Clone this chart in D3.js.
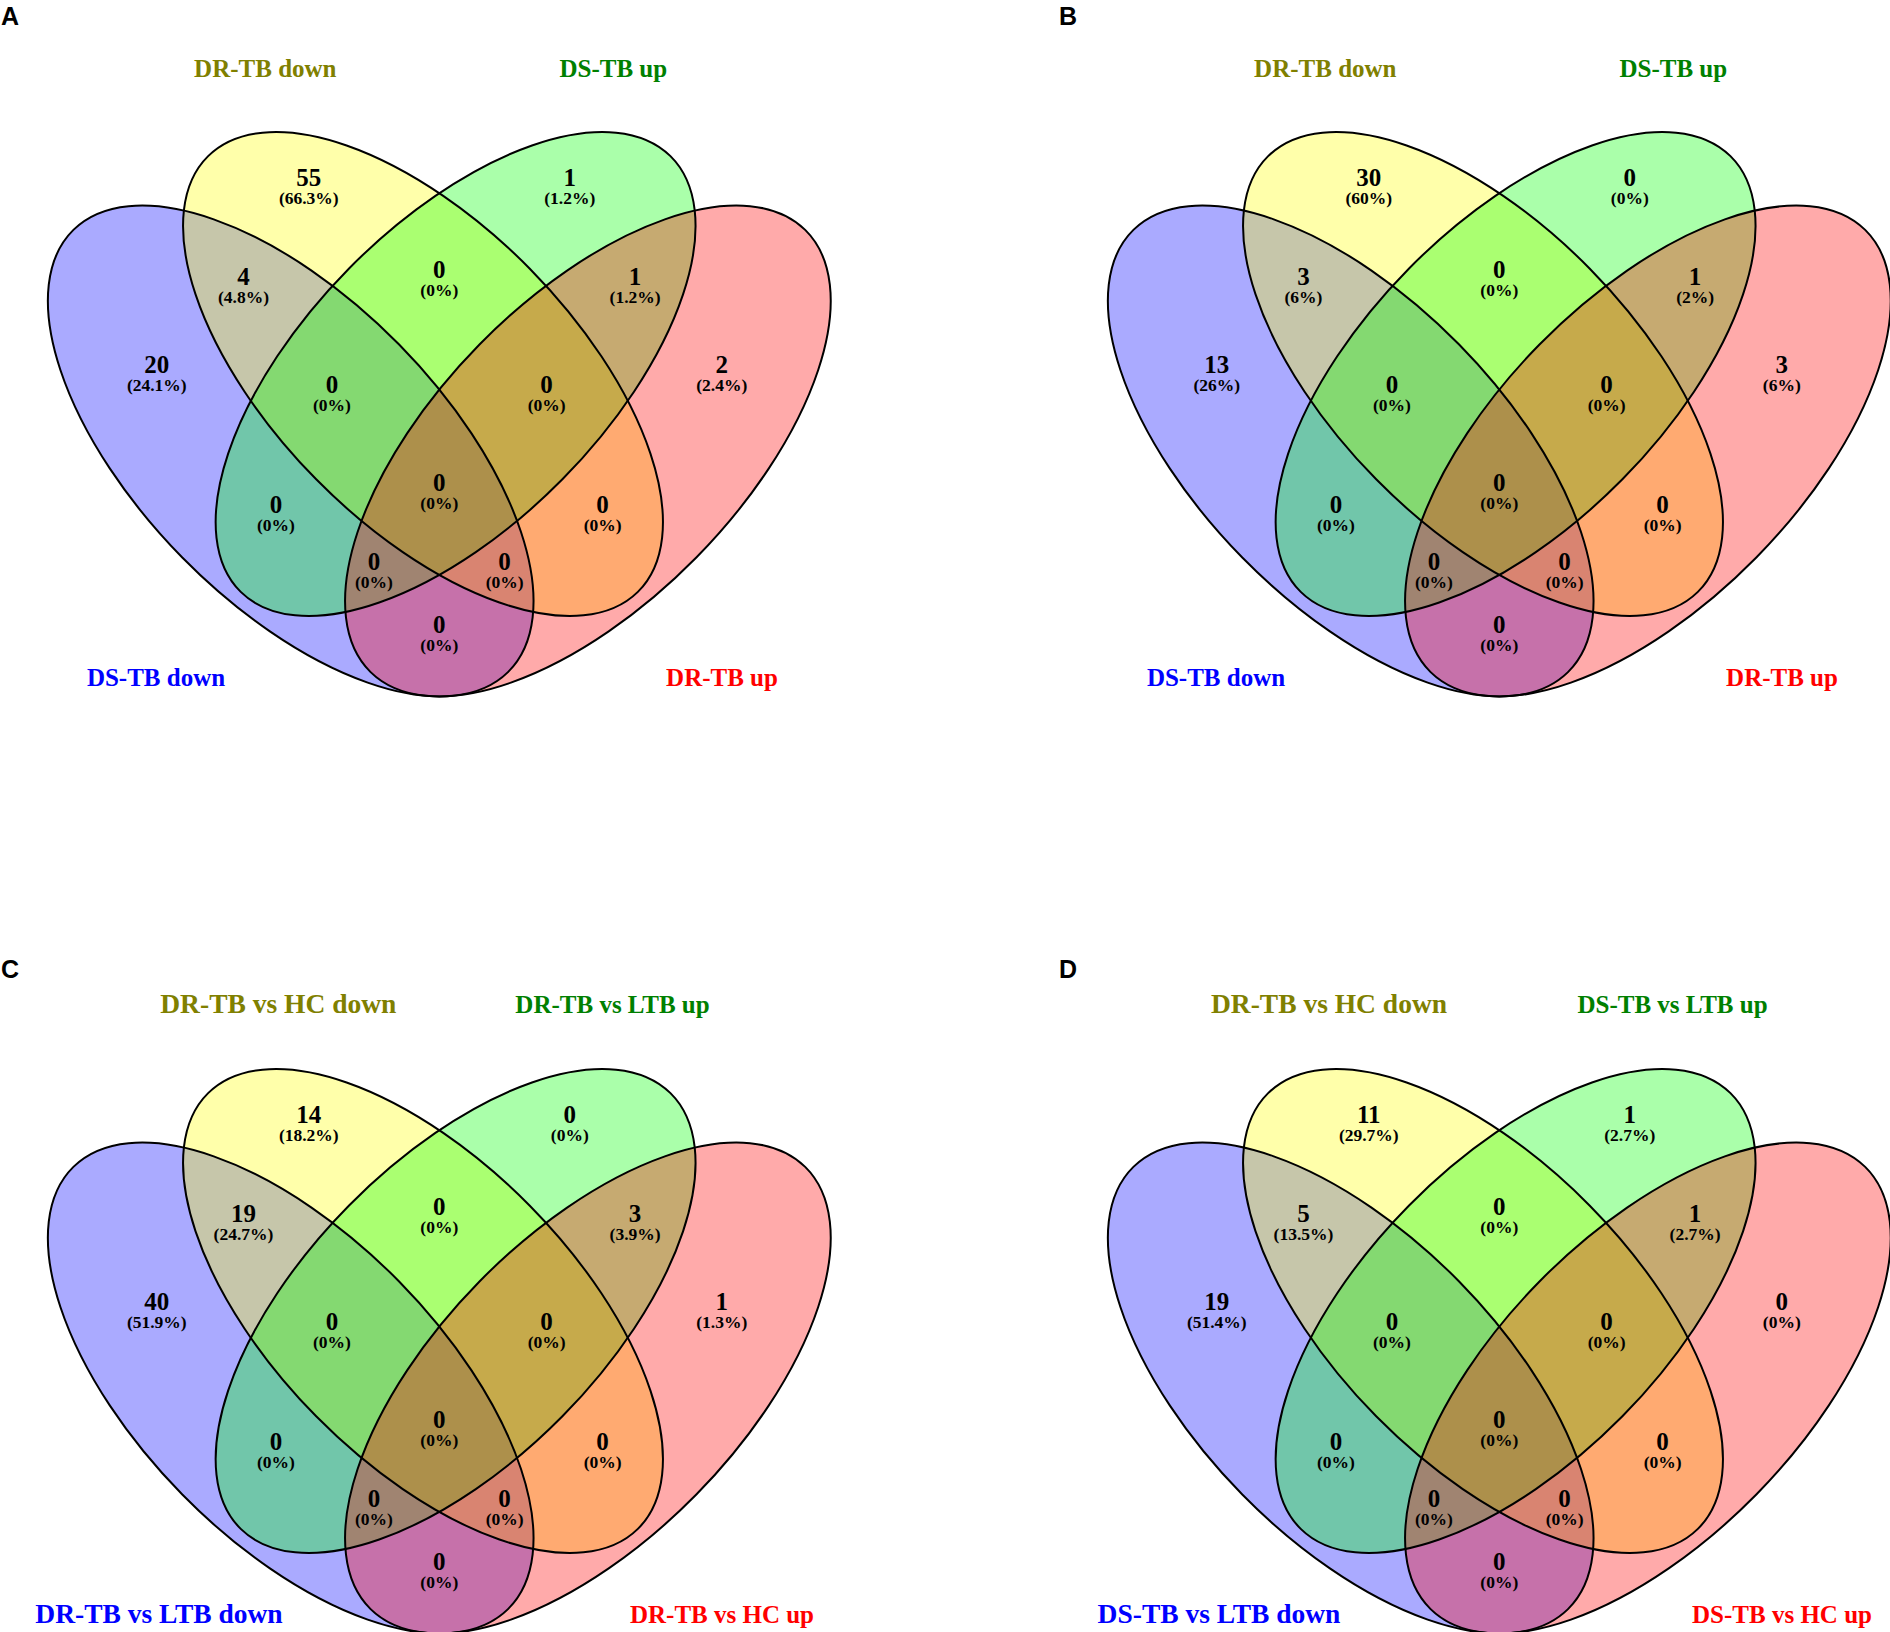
<!DOCTYPE html>
<html>
<head>
<meta charset="utf-8">
<script src="https://cdn.jsdelivr.net/npm/d3@7/dist/d3.min.js"></script>
<style>
  body { margin: 0; background: #fff; }
  text { font-family: "Liberation Serif", "Times New Roman", serif; font-weight: bold; }
</style>
</head>
<body>
<div id="chart"></div>
<script>
// set order in every panel: blue (left outer), yellow, green, red (right outer)
var panelLetters = ["A", "B", "C", "D"];
var namesA = ["DS-TB down", "DR-TB down", "DS-TB up", "DR-TB up"];
var namesB = ["DS-TB down", "DR-TB down", "DS-TB up", "DR-TB up"];
var namesC = ["DR-TB vs LTB down", "DR-TB vs HC down", "DR-TB vs LTB up", "DR-TB vs HC up"];
var namesD = ["DS-TB vs LTB down", "DR-TB vs HC down", "DS-TB vs LTB up", "DS-TB vs HC up"];

// regions: 1 = blue, 2 = yellow, 3 = green, 4 = red
var regions = ["1", "2", "3", "4", "12", "23", "34", "123", "234", "13", "24", "1234", "134", "124", "14"];
var countsA = [20, 55, 1, 2, 4, 0, 1, 0, 0, 0, 0, 0, 0, 0, 0];
var countsB = [13, 30, 0, 3, 3, 0, 1, 0, 0, 0, 0, 0, 0, 0, 0];
var countsC = [40, 14, 0, 1, 19, 0, 3, 0, 0, 0, 0, 0, 0, 0, 0];
var countsD = [19, 11, 1, 0, 5, 0, 1, 0, 0, 0, 0, 0, 0, 0, 0];

var width = 1890, height = 1632;
var panelW = 1060, panelH = 937;

var setColors = ["#0000ff", "#ffff00", "#00ff00", "#ff0000"];
var nameColors = ["#0000ff", "#808000", "#008000", "#ff0000"];

// layout inside one panel (local px, axis of symmetry at x = 439.3)
var axis = 439.3;
var ellipses = [
  {cx: 290.7, cy: 451, rx: 310, ry: 152, rot: 45.5},
  {cx: 423, cy: 374, rx: 306, ry: 150, rot: 45.4},
  {cx: 2 * axis - 423, cy: 374, rx: 306, ry: 150, rot: -45.4},
  {cx: 2 * axis - 290.7, cy: 451, rx: 310, ry: 152, rot: -45.5}
];
// label centre offsets from the axis, per region
var regionPos = {
  "1": [-282.5, 365], "2": [-130.5, 178], "3": [130.5, 178], "4": [282.5, 365],
  "12": [-195.8, 277], "23": [0, 270], "34": [195.8, 277],
  "123": [-107.3, 385], "234": [107.3, 385],
  "13": [-163.3, 505], "24": [163.3, 505], "1234": [0, 483],
  "134": [-65.3, 562], "124": [65.3, 562], "14": [0, 625]
};
// set name positions: [x, baseline, font size]
var namePosA = [[156, 686, 25], [265.3, 77, 25], [613.3, 77, 25], [722, 686, 25]];
var namePosC = [[159, 686, 27.5], [278.3, 75.7, 27.5], [612.5, 76.3, 25], [722, 686, 25]];
var namePosD = [[159, 686, 27.5], [269, 75.7, 27.5], [612.5, 76.3, 25], [722, 686, 25]];

var panels = [
  {letter: panelLetters[0], names: namesA, counts: countsA, col: 0, row: 0, namePos: namePosA},
  {letter: panelLetters[1], names: namesB, counts: countsB, col: 1, row: 0, namePos: namePosA},
  {letter: panelLetters[2], names: namesC, counts: countsC, col: 0, row: 1, namePos: namePosC},
  {letter: panelLetters[3], names: namesD, counts: countsD, col: 1, row: 1, namePos: namePosD}
];

var px = d3.scaleLinear().domain([0, 1]).range([0, panelW]);
var py = d3.scaleLinear().domain([0, 1]).range([0, panelH]);

function pct(v, total) {
  var p = Math.round(v / total * 1000) / 10;
  return "(" + p + "%)";
}

var svg = d3.select("#chart").append("svg")
  .attr("width", width)
  .attr("height", height);

panels.forEach(function(p) {
  var g = svg.append("g")
    .attr("transform", "translate(" + px(p.col) + "," + py(p.row) + ")");

  var total = d3.sum(p.counts);

  // fills first, in the order blue, yellow, green, red
  g.selectAll("ellipse.fill")
    .data(ellipses)
    .join("ellipse")
    .attr("class", "fill")
    .attr("rx", d => d.rx)
    .attr("ry", d => d.ry)
    .attr("transform", d => "translate(" + d.cx + "," + d.cy + ") rotate(" + d.rot + ")")
    .attr("fill", (d, i) => setColors[i])
    .attr("fill-opacity", 1 / 3)
    .attr("stroke", "none");

  g.selectAll("ellipse.line")
    .data(ellipses)
    .join("ellipse")
    .attr("class", "line")
    .attr("rx", d => d.rx)
    .attr("ry", d => d.ry)
    .attr("transform", d => "translate(" + d.cx + "," + d.cy + ") rotate(" + d.rot + ")")
    .attr("fill", "none")
    .attr("stroke", "#000")
    .attr("stroke-width", 2);

  // counts and percentages
  var lab = g.selectAll("g.region")
    .data(regions)
    .join("g")
    .attr("class", "region")
    .attr("transform", d => "translate(" + (axis + regionPos[d][0]) + "," + regionPos[d][1] + ")");

  lab.append("text")
    .attr("text-anchor", "middle")
    .attr("y", 8)
    .attr("font-size", 25)
    .attr("fill", "#000")
    .text((d, i) => p.counts[i]);

  lab.append("text")
    .attr("text-anchor", "middle")
    .attr("y", 26)
    .attr("font-size", 17.5)
    .attr("fill", "#000")
    .text((d, i) => pct(p.counts[i], total));

  // set names
  g.selectAll("text.name")
    .data(p.names)
    .join("text")
    .attr("class", "name")
    .attr("text-anchor", "middle")
    .attr("x", (d, i) => p.namePos[i][0])
    .attr("y", (d, i) => p.namePos[i][1])
    .attr("font-size", (d, i) => p.namePos[i][2])
    .attr("fill", (d, i) => nameColors[i])
    .text(d => d);

  // panel letter
  g.append("text")
    .attr("x", p.col ? -1 : 1)
    .attr("y", p.row ? 41 : 25)
    .attr("font-size", 25)
    .attr("fill", "#000")
    .style("font-family", "'Liberation Sans', Arial, sans-serif")
    .text(p.letter);
});
</script>
</body>
</html>
